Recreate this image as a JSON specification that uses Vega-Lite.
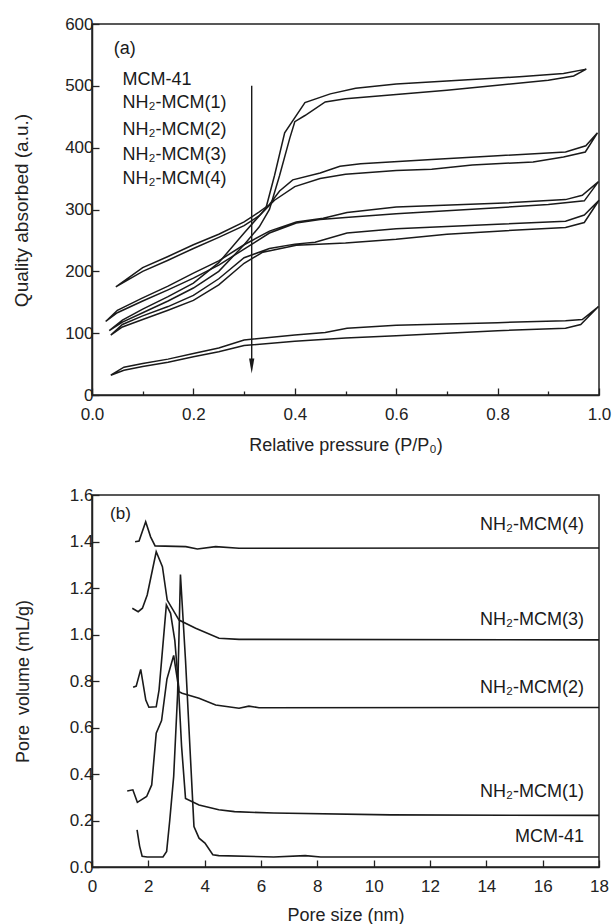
{
  "$schema": "https://vega.github.io/schema/vega-lite/v6.json",
  "padding": {"left": 11, "top": 14, "right": 3, "bottom": 3},
  "background": "white",
  "config": {
    "font": "Liberation Sans",
    "view": {"stroke": "#222", "strokeWidth": 1.5},
    "axis": {
      "domainColor": "#222", "domainWidth": 1.5, "tickColor": "#222", "tickWidth": 1.3,
      "labelFontSize": 17, "labelColor": "#222", "labelFont": "Liberation Sans",
      "titleFont": "Liberation Sans", "titleColor": "#222", "titleFontWeight": "normal",
      "grid": false, "labelFlush": false, "labelOverlap": false
    },
    "axisX": {"labelPadding": 18},
    "axisY": {"labelPadding": 6}
  },
  "datasets": {
    "iso": [
      {"s":"c1","o":1,"p":0.034,"v":104},{"s":"c1","o":2,"p":0.06,"v":118},{"s":"c1","o":3,"p":0.1,"v":133},{"s":"c1","o":4,"p":0.15,"v":152},{"s":"c1","o":5,"p":0.2,"v":173},{"s":"c1","o":6,"p":0.25,"v":200},{"s":"c1","o":7,"p":0.3,"v":243},{"s":"c1","o":8,"p":0.33,"v":272},{"s":"c1","o":9,"p":0.35,"v":300},{"s":"c1","o":10,"p":0.37,"v":355},{"s":"c1","o":11,"p":0.39,"v":415},{"s":"c1","o":12,"p":0.4,"v":442},{"s":"c1","o":13,"p":0.42,"v":452},{"s":"c1","o":14,"p":0.46,"v":474},{"s":"c1","o":15,"p":0.5,"v":479},{"s":"c1","o":16,"p":0.6,"v":486},{"s":"c1","o":17,"p":0.7,"v":493},{"s":"c1","o":18,"p":0.8,"v":501},{"s":"c1","o":19,"p":0.9,"v":509},{"s":"c1","o":20,"p":0.95,"v":516},{"s":"c1","o":21,"p":0.975,"v":527},
      {"s":"c1","o":22,"p":0.93,"v":520},{"s":"c1","o":23,"p":0.85,"v":515},{"s":"c1","o":24,"p":0.7,"v":508},{"s":"c1","o":25,"p":0.6,"v":503},{"s":"c1","o":26,"p":0.52,"v":496},{"s":"c1","o":27,"p":0.47,"v":487},{"s":"c1","o":28,"p":0.42,"v":473},{"s":"c1","o":29,"p":0.38,"v":424},{"s":"c1","o":30,"p":0.36,"v":355},{"s":"c1","o":31,"p":0.343,"v":302},{"s":"c1","o":32,"p":0.3,"v":262},{"s":"c1","o":33,"p":0.25,"v":214},{"s":"c1","o":34,"p":0.2,"v":181},{"s":"c1","o":35,"p":0.15,"v":159},{"s":"c1","o":36,"p":0.1,"v":139},{"s":"c1","o":37,"p":0.06,"v":121},{"s":"c1","o":38,"p":0.034,"v":104},

      {"s":"c2","o":1,"p":0.047,"v":175},{"s":"c2","o":2,"p":0.1,"v":200},{"s":"c2","o":3,"p":0.15,"v":218},{"s":"c2","o":4,"p":0.2,"v":237},{"s":"c2","o":5,"p":0.25,"v":255},{"s":"c2","o":6,"p":0.3,"v":274},{"s":"c2","o":7,"p":0.33,"v":290},{"s":"c2","o":8,"p":0.36,"v":315},{"s":"c2","o":9,"p":0.4,"v":337},{"s":"c2","o":10,"p":0.45,"v":350},{"s":"c2","o":11,"p":0.5,"v":357},{"s":"c2","o":12,"p":0.6,"v":363},{"s":"c2","o":13,"p":0.67,"v":365},{"s":"c2","o":14,"p":0.75,"v":372},{"s":"c2","o":15,"p":0.87,"v":377},{"s":"c2","o":16,"p":0.93,"v":385},{"s":"c2","o":17,"p":0.973,"v":393},{"s":"c2","o":18,"p":0.997,"v":424},
      {"s":"c2","o":19,"p":0.974,"v":403},{"s":"c2","o":20,"p":0.934,"v":393},{"s":"c2","o":21,"p":0.8,"v":387},{"s":"c2","o":22,"p":0.67,"v":381},{"s":"c2","o":23,"p":0.53,"v":374},{"s":"c2","o":24,"p":0.489,"v":370},{"s":"c2","o":25,"p":0.45,"v":359},{"s":"c2","o":26,"p":0.396,"v":348},{"s":"c2","o":27,"p":0.37,"v":330},{"s":"c2","o":28,"p":0.35,"v":308},{"s":"c2","o":29,"p":0.33,"v":296},{"s":"c2","o":30,"p":0.3,"v":280},{"s":"c2","o":31,"p":0.25,"v":260},{"s":"c2","o":32,"p":0.2,"v":243},{"s":"c2","o":33,"p":0.15,"v":224},{"s":"c2","o":34,"p":0.1,"v":206},{"s":"c2","o":35,"p":0.047,"v":175},

      {"s":"c3","o":1,"p":0.027,"v":119},{"s":"c3","o":2,"p":0.05,"v":133},{"s":"c3","o":3,"p":0.1,"v":152},{"s":"c3","o":4,"p":0.15,"v":170},{"s":"c3","o":5,"p":0.2,"v":189},{"s":"c3","o":6,"p":0.25,"v":210},{"s":"c3","o":7,"p":0.3,"v":236},{"s":"c3","o":8,"p":0.35,"v":262},{"s":"c3","o":9,"p":0.403,"v":278},{"s":"c3","o":10,"p":0.45,"v":284},{"s":"c3","o":11,"p":0.5,"v":287},{"s":"c3","o":12,"p":0.6,"v":293},{"s":"c3","o":13,"p":0.7,"v":298},{"s":"c3","o":14,"p":0.8,"v":303},{"s":"c3","o":15,"p":0.9,"v":308},{"s":"c3","o":16,"p":0.971,"v":314},{"s":"c3","o":17,"p":0.999,"v":345},
      {"s":"c3","o":18,"p":0.967,"v":323},{"s":"c3","o":19,"p":0.934,"v":316},{"s":"c3","o":20,"p":0.8,"v":310},{"s":"c3","o":21,"p":0.6,"v":304},{"s":"c3","o":22,"p":0.503,"v":295},{"s":"c3","o":23,"p":0.456,"v":286},{"s":"c3","o":24,"p":0.403,"v":280},{"s":"c3","o":25,"p":0.35,"v":265},{"s":"c3","o":26,"p":0.3,"v":243},{"s":"c3","o":27,"p":0.25,"v":217},{"s":"c3","o":28,"p":0.2,"v":197},{"s":"c3","o":29,"p":0.15,"v":176},{"s":"c3","o":30,"p":0.1,"v":157},{"s":"c3","o":31,"p":0.05,"v":137},{"s":"c3","o":32,"p":0.027,"v":119},

      {"s":"c4","o":1,"p":0.037,"v":97},{"s":"c4","o":2,"p":0.06,"v":110},{"s":"c4","o":3,"p":0.1,"v":122},{"s":"c4","o":4,"p":0.15,"v":137},{"s":"c4","o":5,"p":0.2,"v":153},{"s":"c4","o":6,"p":0.25,"v":178},{"s":"c4","o":7,"p":0.3,"v":213},{"s":"c4","o":8,"p":0.337,"v":231},{"s":"c4","o":9,"p":0.403,"v":242},{"s":"c4","o":10,"p":0.5,"v":246},{"s":"c4","o":11,"p":0.6,"v":252},{"s":"c4","o":12,"p":0.7,"v":260},{"s":"c4","o":13,"p":0.8,"v":265},{"s":"c4","o":14,"p":0.934,"v":271},{"s":"c4","o":15,"p":0.971,"v":279},{"s":"c4","o":16,"p":1.0,"v":315},
      {"s":"c4","o":17,"p":0.971,"v":291},{"s":"c4","o":18,"p":0.934,"v":281},{"s":"c4","o":19,"p":0.8,"v":276},{"s":"c4","o":20,"p":0.6,"v":269},{"s":"c4","o":21,"p":0.503,"v":262},{"s":"c4","o":22,"p":0.44,"v":247},{"s":"c4","o":23,"p":0.4,"v":244},{"s":"c4","o":24,"p":0.35,"v":237},{"s":"c4","o":25,"p":0.3,"v":222},{"s":"c4","o":26,"p":0.25,"v":188},{"s":"c4","o":27,"p":0.2,"v":161},{"s":"c4","o":28,"p":0.15,"v":143},{"s":"c4","o":29,"p":0.1,"v":128},{"s":"c4","o":30,"p":0.06,"v":114},{"s":"c4","o":31,"p":0.037,"v":97},

      {"s":"c5","o":1,"p":0.037,"v":32},{"s":"c5","o":2,"p":0.063,"v":40},{"s":"c5","o":3,"p":0.1,"v":46},{"s":"c5","o":4,"p":0.15,"v":53},{"s":"c5","o":5,"p":0.2,"v":62},{"s":"c5","o":6,"p":0.25,"v":70},{"s":"c5","o":7,"p":0.3,"v":80},{"s":"c5","o":8,"p":0.4,"v":87},{"s":"c5","o":9,"p":0.5,"v":92},{"s":"c5","o":10,"p":0.6,"v":96},{"s":"c5","o":11,"p":0.7,"v":100},{"s":"c5","o":12,"p":0.8,"v":104},{"s":"c5","o":13,"p":0.934,"v":108},{"s":"c5","o":14,"p":0.964,"v":114},{"s":"c5","o":15,"p":0.999,"v":143},
      {"s":"c5","o":16,"p":0.967,"v":122},{"s":"c5","o":17,"p":0.934,"v":120},{"s":"c5","o":18,"p":0.8,"v":117},{"s":"c5","o":19,"p":0.6,"v":113},{"s":"c5","o":20,"p":0.503,"v":108},{"s":"c5","o":21,"p":0.46,"v":101},{"s":"c5","o":22,"p":0.4,"v":97},{"s":"c5","o":23,"p":0.3,"v":89},{"s":"c5","o":24,"p":0.25,"v":76},{"s":"c5","o":25,"p":0.2,"v":67},{"s":"c5","o":26,"p":0.15,"v":58},{"s":"c5","o":27,"p":0.1,"v":51},{"s":"c5","o":28,"p":0.063,"v":45},{"s":"c5","o":29,"p":0.037,"v":32}
    ],
    "psd": [
      {"s":"m0","o":1,"d":1.6,"v":0.16},{"s":"m0","o":2,"d":1.69,"v":0.09},{"s":"m0","o":3,"d":1.78,"v":0.046},{"s":"m0","o":4,"d":1.96,"v":0.043},{"s":"m0","o":5,"d":2.52,"v":0.043},{"s":"m0","o":6,"d":2.65,"v":0.067},{"s":"m0","o":7,"d":2.76,"v":0.2},{"s":"m0","o":8,"d":2.9,"v":0.39},{"s":"m0","o":9,"d":3.04,"v":0.746},{"s":"m0","o":10,"d":3.14,"v":1.258},{"s":"m0","o":11,"d":3.32,"v":0.889},{"s":"m0","o":12,"d":3.5,"v":0.46},{"s":"m0","o":13,"d":3.62,"v":0.174},{"s":"m0","o":14,"d":3.8,"v":0.124},{"s":"m0","o":15,"d":4.01,"v":0.103},{"s":"m0","o":16,"d":4.29,"v":0.053},{"s":"m0","o":17,"d":4.5,"v":0.049},{"s":"m0","o":18,"d":6.45,"v":0.043},{"s":"m0","o":19,"d":7.57,"v":0.049},{"s":"m0","o":20,"d":8.12,"v":0.043},{"s":"m0","o":21,"d":18,"v":0.043},
      {"s":"m1","o":1,"d":1.25,"v":0.327},{"s":"m1","o":2,"d":1.45,"v":0.332},{"s":"m1","o":3,"d":1.61,"v":0.278},{"s":"m1","o":4,"d":1.94,"v":0.303},{"s":"m1","o":5,"d":2.12,"v":0.353},{"s":"m1","o":6,"d":2.28,"v":0.575},{"s":"m1","o":7,"d":2.47,"v":0.63},{"s":"m1","o":8,"d":2.66,"v":0.808},{"s":"m1","o":9,"d":2.9,"v":0.91},{"s":"m1","o":10,"d":3.07,"v":0.775},{"s":"m1","o":11,"d":3.18,"v":0.52},{"s":"m1","o":12,"d":3.32,"v":0.295},{"s":"m1","o":13,"d":3.8,"v":0.267},{"s":"m1","o":14,"d":4.5,"v":0.246},{"s":"m1","o":15,"d":5.06,"v":0.238},{"s":"m1","o":16,"d":6.45,"v":0.232},{"s":"m1","o":17,"d":10.6,"v":0.224},{"s":"m1","o":18,"d":18,"v":0.222},
      {"s":"m2","o":1,"d":1.46,"v":0.773},{"s":"m2","o":2,"d":1.57,"v":0.778},{"s":"m2","o":3,"d":1.73,"v":0.85},{"s":"m2","o":4,"d":1.91,"v":0.718},{"s":"m2","o":5,"d":2.02,"v":0.687},{"s":"m2","o":6,"d":2.28,"v":0.689},{"s":"m2","o":7,"d":2.38,"v":0.761},{"s":"m2","o":8,"d":2.64,"v":1.127},{"s":"m2","o":9,"d":2.79,"v":1.091},{"s":"m2","o":10,"d":2.94,"v":0.975},{"s":"m2","o":11,"d":3.09,"v":0.754},{"s":"m2","o":12,"d":3.2,"v":0.747},{"s":"m2","o":13,"d":3.8,"v":0.726},{"s":"m2","o":14,"d":4.39,"v":0.697},{"s":"m2","o":15,"d":5.22,"v":0.683},{"s":"m2","o":16,"d":5.57,"v":0.692},{"s":"m2","o":17,"d":5.93,"v":0.685},{"s":"m2","o":18,"d":18,"v":0.686},
      {"s":"m3","o":1,"d":1.43,"v":1.113},{"s":"m3","o":2,"d":1.64,"v":1.098},{"s":"m3","o":3,"d":1.79,"v":1.113},{"s":"m3","o":4,"d":1.96,"v":1.17},{"s":"m3","o":5,"d":2.28,"v":1.356},{"s":"m3","o":6,"d":2.5,"v":1.292},{"s":"m3","o":7,"d":2.67,"v":1.148},{"s":"m3","o":8,"d":3.09,"v":1.062},{"s":"m3","o":9,"d":3.68,"v":1.027},{"s":"m3","o":10,"d":4.51,"v":0.984},{"s":"m3","o":11,"d":5.22,"v":0.979},{"s":"m3","o":12,"d":18,"v":0.977},
      {"s":"m4","o":1,"d":1.53,"v":1.399},{"s":"m4","o":2,"d":1.67,"v":1.402},{"s":"m4","o":3,"d":1.906,"v":1.485},{"s":"m4","o":4,"d":2.08,"v":1.42},{"s":"m4","o":5,"d":2.24,"v":1.381},{"s":"m4","o":6,"d":3.33,"v":1.378},{"s":"m4","o":7,"d":3.74,"v":1.368},{"s":"m4","o":8,"d":4.39,"v":1.378},{"s":"m4","o":9,"d":5.22,"v":1.371},{"s":"m4","o":10,"d":18,"v":1.372}
    ]
  },
  "spacing": 100,
  "bounds": "flush",
  "vconcat": [
    {
      "width": 507, "height": 371,
      "layer": [
        {
          "data": {"name": "iso"},
          "mark": {"type": "line", "color": "#1a1a1a", "strokeWidth": 1.5},
          "encoding": {
            "x": {"field": "p", "type": "quantitative", "scale": {"domain": [0, 1], "nice": false},
              "axis": {"values": [0,0.1,0.2,0.3,0.4,0.5,0.6,0.7,0.8,0.9,1.0],
                "labelExpr": "round(datum.value*10)%2==0 ? format(datum.value,'.1f') : ''",
                "tickSize": {"condition": {"test": "round(datum.value*10)%2==0", "value": -7}, "value": -4},
                "title": "Relative pressure (P/P₀)", "titleFontSize": 18, "titlePadding": 11}},
            "y": {"field": "v", "type": "quantitative", "scale": {"domain": [0, 600], "nice": false},
              "axis": {"values": [0,50,100,150,200,250,300,350,400,450,500,550,600],
                "labelExpr": "datum.value%100==0 ? datum.label : ''",
                "tickSize": {"condition": {"test": "datum.value%100==0", "value": -7}, "value": -4},
                "title": "Quality absorbed (a.u.)", "titleFontSize": 19, "titlePadding": 33, "titleY": 186}},
            "detail": {"field": "s"},
            "order": {"field": "o"}
          }
        },
        {
          "data": {"values": [{"p": 0.315, "v": 500, "v2": 55}]},
          "mark": {"type": "rule", "color": "#1a1a1a", "strokeWidth": 1.4},
          "encoding": {"x": {"field": "p", "type": "quantitative"}, "y": {"field": "v", "type": "quantitative"}, "y2": {"field": "v2"}}
        },
        {
          "data": {"values": [{"p": 0.315, "v": 47}]},
          "mark": {"type": "point", "shape": "M-0.35,-1L0.35,-1L0,1Z", "filled": true, "size": 225, "color": "#1a1a1a", "opacity": 1},
          "encoding": {"x": {"field": "p", "type": "quantitative"}, "y": {"field": "v", "type": "quantitative"}}
        },
        {
          "data": {"values": [
            {"p": 0.043, "v": 560, "t": "(a)"},
            {"p": 0.06, "v": 509, "t": "MCM-41"},
            {"p": 0.06, "v": 472, "t": "NH₂-MCM(1)"},
            {"p": 0.06, "v": 429, "t": "NH₂-MCM(2)"},
            {"p": 0.06, "v": 388, "t": "NH₂-MCM(3)"},
            {"p": 0.06, "v": 349, "t": "NH₂-MCM(4)"}
          ]},
          "mark": {"type": "text", "align": "left", "baseline": "middle", "fontSize": 18, "color": "#1a1a1a"},
          "encoding": {"x": {"field": "p", "type": "quantitative"}, "y": {"field": "v", "type": "quantitative"}, "text": {"field": "t"}}
        }
      ]
    },
    {
      "width": 507, "height": 372,
      "layer": [
        {
          "data": {"name": "psd"},
          "mark": {"type": "line", "color": "#1a1a1a", "strokeWidth": 1.6},
          "encoding": {
            "x": {"field": "d", "type": "quantitative", "scale": {"domain": [0, 18], "nice": false},
              "axis": {"values": [0,1,2,3,4,5,6,7,8,9,10,11,12,13,14,15,16,17,18],
                "labelExpr": "datum.value%2==0 ? datum.label : ''",
                "tickSize": {"condition": {"test": "datum.value%2==0", "value": -7}, "value": -4},
                "title": "Pore size (nm)", "titleFontSize": 18, "titlePadding": 12}},
            "y": {"field": "v", "type": "quantitative", "scale": {"domain": [0, 1.6], "nice": false},
              "axis": {"values": [0,0.1,0.2,0.3,0.4,0.5,0.6,0.7,0.8,0.9,1.0,1.1,1.2,1.3,1.4,1.5,1.6],
                "labelExpr": "round(datum.value*10)%2==0 ? format(datum.value,'.1f') : ''",
                "tickSize": {"condition": {"test": "round(datum.value*10)%2==0", "value": -7}, "value": -4},
                "title": "Pore\u00a0\u00a0volume (mL/g)", "titleFontSize": 18, "titlePadding": 37}},
            "detail": {"field": "s"},
            "order": {"field": "o"}
          }
        },
        {
          "data": {"values": [
            {"d": 0.64, "v": 1.52, "t": "(b)"}
          ]},
          "mark": {"type": "text", "align": "left", "baseline": "middle", "fontSize": 17, "color": "#1a1a1a"},
          "encoding": {"x": {"field": "d", "type": "quantitative"}, "y": {"field": "v", "type": "quantitative"}, "text": {"field": "t"}}
        },
        {
          "data": {"values": [
            {"d": 17.47, "v": 1.47, "t": "NH₂-MCM(4)"},
            {"d": 17.47, "v": 1.062, "t": "NH₂-MCM(3)"},
            {"d": 17.47, "v": 0.771, "t": "NH₂-MCM(2)"},
            {"d": 17.47, "v": 0.324, "t": "NH₂-MCM(1)"},
            {"d": 17.47, "v": 0.13, "t": "MCM-41"}
          ]},
          "mark": {"type": "text", "align": "right", "baseline": "middle", "fontSize": 18, "color": "#1a1a1a"},
          "encoding": {"x": {"field": "d", "type": "quantitative"}, "y": {"field": "v", "type": "quantitative"}, "text": {"field": "t"}}
        }
      ]
    }
  ]
}
